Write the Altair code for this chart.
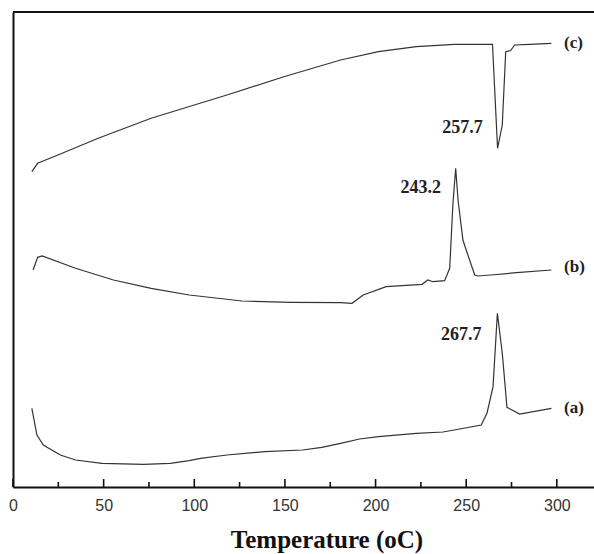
import altair as alt
import pandas as pd

# Curve (a)
T_a = [10.4, 13.2, 16.7, 26.1, 34.5, 49.1, 72.1, 86.7, 97.2, 103.4, 118, 138.9, 159.8, 170.3,
       180.7, 191.2, 201.6, 222.5, 237.2, 243.4, 258.3, 261.5, 264.8, 267.2, 269.9, 272.5, 279.5, 297]
v_a = [78.7, 52, 42, 32, 27, 23.7, 22.7, 23.7, 26.3, 28.7, 32, 35.3, 37, 39.7,
       43.7, 48, 50.3, 53.7, 55, 57, 62, 74, 100.3, 173.7, 133.7, 79.7, 73, 78.7]

# Curve (b)
T_b = [11.1, 13.6, 16.1, 34.5, 55.4, 76.2, 97.2, 126.4, 153.6, 180.7, 187, 193.2, 205.8, 225.7,
       228.8, 231.7, 238.1, 240.9, 242.7, 244.2, 245.5, 248.2, 250, 254.7, 256.5, 263.5, 277.7, 297]
v_b = [217, 229.7, 231, 218.7, 207, 198.7, 192, 186, 184.7, 184.3, 183.7, 192, 200.3, 202.7,
       207, 205.3, 206.3, 218.7, 284, 318.7, 287, 247, 237, 212, 211, 212, 214.3, 217]

# Curve (c)
T_c = [10.4, 13.6, 26.1, 47, 76.2, 118, 149.4, 180.7, 201.6, 222.5, 243.4, 264.5,
       267.3, 269.9, 271.8, 274.5, 276.7, 285, 297]
v_c = [315.3, 323.7, 333, 348.7, 368.7, 392, 410.3, 427, 435.3, 440.3, 442.7, 442.7,
       338.7, 362, 435.3, 436.5, 442, 442.7, 443.7]

# Curve labels
curve_labels = ["(a)", "(b)", "(c)"]
curve_label_T = [304, 304, 304]
curve_label_v = [79, 220, 444]

# Peak annotations
peak_labels = ["267.7", "243.2", "257.7"]
peak_T = [258.4, 236.1, 259.1]
peak_v = [152, 299, 359]

major_ticks = [0, 50, 100, 150, 200, 250, 300]
minor_ticks = [25, 75, 125, 175, 225, 275]

W = 581
H = 475
XMAX = 320.5
YMAX = 475

rows = []
for name, T, v in (("a", T_a, v_a), ("b", T_b, v_b), ("c", T_c, v_c)):
    for t, val in zip(T, v):
        rows.append({"series": name, "T": t, "v": val})
df = pd.DataFrame(rows)

xs = alt.Scale(domain=[0, XMAX], nice=False, zero=False)
ys = alt.Scale(domain=[0, YMAX], nice=False, zero=False)

lines = alt.Chart(df).mark_line(color="#333333", strokeWidth=1.2).encode(
    x=alt.X("T:Q", scale=xs, axis=alt.Axis(
        values=major_ticks, ticks=False, grid=False, domainColor="#111111", domainWidth=2,
        labelFont="Liberation Sans", labelFontSize=16, labelColor="#333333", labelPadding=10,
        labelFlush=False, title="Temperature (oC)", titleFont="Liberation Serif",
        titleFontWeight="bold", titleFontSize=25, titleColor="#111111", titlePadding=14,
        titleX=313.5, titleAlign="center")),
    y=alt.Y("v:Q", scale=ys, axis=alt.Axis(
        ticks=False, labels=False, grid=False, title=None, domainColor="#111111", domainWidth=2)),
    detail="series:N",
)

lab_df = pd.DataFrame({"label": curve_labels, "T": curve_label_T, "v": curve_label_v})
labels = alt.Chart(lab_df).mark_text(
    align="left", baseline="middle", font="Liberation Serif", fontWeight="bold",
    fontSize=17, color="#222222").encode(
    x=alt.X("T:Q", scale=xs), y=alt.Y("v:Q", scale=ys), text="label:N")

pk_df = pd.DataFrame({"label": peak_labels, "T": peak_T, "v": peak_v})
peaks = alt.Chart(pk_df).mark_text(
    align="right", baseline="middle", font="Liberation Serif", fontWeight="bold",
    fontSize=18, color="#222222").encode(
    x=alt.X("T:Q", scale=xs), y=alt.Y("v:Q", scale=ys), text="label:N")

maj_df = pd.DataFrame({"T": major_ticks})
min_df = pd.DataFrame({"T": minor_ticks})
maj = alt.Chart(maj_df).mark_rule(color="#111111", strokeWidth=1.6).encode(
    x=alt.X("T:Q", scale=xs), y=alt.value(H), y2=alt.value(H - 8))
mino = alt.Chart(min_df).mark_rule(color="#111111", strokeWidth=1.6).encode(
    x=alt.X("T:Q", scale=xs), y=alt.value(H), y2=alt.value(H - 5))

top_df = pd.DataFrame({"k": [0]})
top = alt.Chart(top_df).mark_rule(color="#111111", strokeWidth=2).encode(
    x=alt.value(0), x2=alt.value(W), y=alt.value(0))

chart = alt.layer(lines, labels, peaks, maj, mino, top).properties(
    width=W, height=H,
    autosize=alt.AutoSizeParams(type="none"),
    padding={"left": 13, "top": 12, "right": 0, "bottom": 67},
    background="white",
).configure_view(stroke=None)

chart.save("out.html", embed_options={"renderer": "svg", "actions": False})
